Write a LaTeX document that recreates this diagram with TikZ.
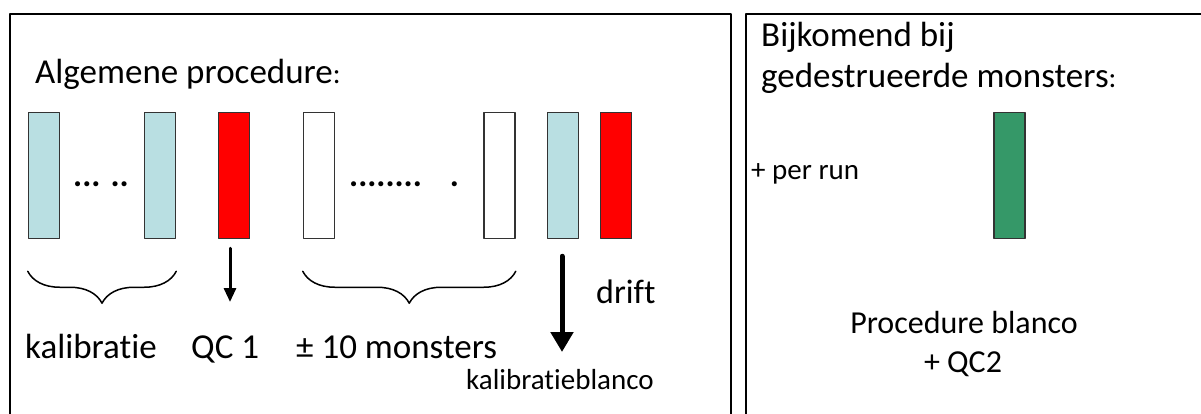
\documentclass[tikz,border=0pt]{standalone}
\usepackage{fontspec}
\setmainfont{Carlito}[Ligatures=NoCommon]
\usetikzlibrary{arrows.meta,decorations.pathreplacing}
\definecolor{kalib}{RGB}{185,223,226}
\definecolor{qcrood}{RGB}{255,0,0}
\definecolor{blancogroen}{RGB}{53,152,104}

\begin{document}
\begin{tikzpicture}[x=1pt,y=-1pt,line join=round,line cap=round,>=stealth]
		\tikzset{buis/.style={draw=black!80,line width=1.5pt,minimum width=31pt,minimum height=126pt,inner sep=0pt},
			groot/.style={font=\fontsize{35}{40}\selectfont,inner sep=0pt},
			klein/.style={font=\fontsize{29}{34}\selectfont,inner sep=0pt},
			kader/.style={line width=2pt},
			accolade/.style={decorate,decoration={brace,mirror,amplitude=32pt},line width=1.5pt}}
		\useasboundingbox (0,0) rectangle (1201,414);
		\clip (0,0) rectangle (1201,414);
		\draw[kader] (10,14) rectangle (731,430);
		\draw[kader] (746,14) rectangle (1215,430);
		% buisjes
		\foreach \n/\x/\c in {k1/44/kalib,k2/160/kalib,qc/234/qcrood,m1/319/white,m2/499.5/white,kb/563/kalib,dr/616/qcrood}
		\node[buis,fill=\c] (\n) at (\x,175.5) {};
		\node[buis,fill=blancogroen] (bl) at (1009.5,175.5) {};
		\node[groot,anchor=base west,font=\fontsize{34}{40}\bfseries] (puntjes1) at (73,186) {... ..};
		\node[groot,anchor=base west,font=\fontsize{34}{40}\bfseries] (puntjes2) at (349,186) {........\hspace{28pt}.};
		% accolades en pijlen
		\draw[accolade] ([yshift=-32pt]k1.south west) -- ([yshift=-32pt]k2.south east);
		\draw[accolade] ([yshift=-32pt]m1.south west) -- ([yshift=-32pt]m2.south east);
		\coordinate (qcpijl) at (230,302);
		\draw[line width=3pt,-{Triangle[width=12pt,length=14pt]}] ([yshift=-9pt]qc.south -| qcpijl) -- (qcpijl);
		\coordinate (driftpijl) at (562,352);
		\draw[line width=5pt,-{Triangle[width=22pt,length=20pt]}] ([yshift=-17pt]kb.south -| driftpijl) -- (driftpijl);
		% teksten
		\node[groot,anchor=base west] (titel) at (35,84) {Algemene procedure\fontsize{29}{34}\selectfont:};
		\node[groot,anchor=base west] (kal) at (25,358) {kalibratie};
		\node[groot,anchor=base west] (qctekst) at (191,358) {QC 1};
		\node[groot,anchor=base west] (monsters) at (296,358) {± 10 monsters};
		\node[groot,anchor=base west,font=\fontsize{34}{40}\selectfont] (drift) at (596,303) {drift};
		\node[klein,anchor=base west] (kalblanco) at (466,389) {kalibratieblanco};
		\node[groot,anchor=base west] (bijk1) at (761,47) {Bijkomend bij};
		\node[groot,anchor=base west] (bijk2) at (761,88) {gedestrueerde monsters\fontsize{29}{34}\selectfont:};
		\node[klein,anchor=base west] (perrun) at (751,179) {+ per run};
		\node[groot,anchor=base,font=\fontsize{32}{38}\selectfont] (procblanco) at (964,333) {Procedure blanco};
		\node[groot,anchor=base,font=\fontsize{32}{38}\selectfont] (qc2) at (963,372) {+ QC2};
	\end{tikzpicture}
\end{document}
